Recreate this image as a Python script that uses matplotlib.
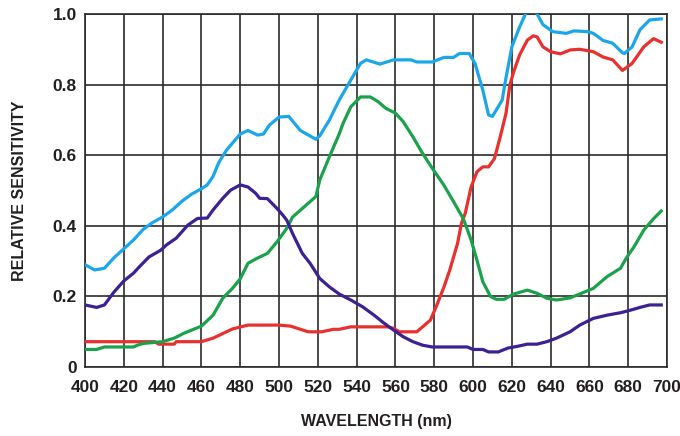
import numpy as np
import matplotlib.pyplot as plt

plt.rcParams['font.family'] = ['Liberation Sans', 'DejaVu Sans']

# light blue curve
blue_wl = [400, 405, 410, 415, 420, 425, 430, 435, 440, 445, 450, 455, 460, 463, 466,
           469, 473, 480, 484, 489, 492, 495, 500, 505, 511, 519, 521, 526, 531, 537,
           542, 545, 552, 559, 568, 571, 579, 585, 590, 593, 598, 601, 605, 608, 610,
           615, 617, 620, 624, 627, 630, 633, 636, 641, 648, 652, 659, 662, 667, 672,
           677, 678, 682, 686, 691, 697]
blue_val = [0.29, 0.275, 0.28, 0.31, 0.335, 0.36, 0.39, 0.41, 0.425, 0.445, 0.47, 0.49,
            0.505, 0.516, 0.54, 0.58, 0.615, 0.66, 0.67, 0.657, 0.66, 0.685, 0.708,
            0.71, 0.67, 0.645, 0.655, 0.70, 0.756, 0.813, 0.86, 0.87, 0.858, 0.87, 0.87,
            0.864, 0.864, 0.877, 0.877, 0.888, 0.888, 0.86, 0.785, 0.714, 0.71, 0.756,
            0.82, 0.907, 0.963, 1.0, 1.02, 1.0, 0.97, 0.95, 0.945, 0.952, 0.95, 0.945,
            0.925, 0.917, 0.89, 0.888, 0.907, 0.955, 0.983, 0.986]

# red curve
red_wl = [400, 436, 438, 446, 447, 460, 466, 476, 484, 500, 506, 515, 519, 522, 528,
          531, 537, 556, 559, 562, 571, 574, 578, 581, 585, 588, 592, 594, 596, 599,
          602, 605, 608, 611, 614, 617, 619, 621, 624, 628, 631, 633, 636, 640, 645,
          650, 655, 662, 667, 672, 677, 682, 688, 693, 697]
red_val = [0.072, 0.072, 0.065, 0.065, 0.072, 0.072, 0.082, 0.108, 0.119, 0.119, 0.116,
           0.10, 0.10, 0.10, 0.107, 0.107, 0.114, 0.114, 0.11, 0.10, 0.10, 0.114, 0.133,
           0.171, 0.227, 0.275, 0.35, 0.407, 0.436, 0.51, 0.553, 0.567, 0.567, 0.59,
           0.652, 0.719, 0.80, 0.837, 0.884, 0.926, 0.938, 0.935, 0.907, 0.893, 0.887,
           0.898, 0.90, 0.893, 0.878, 0.87, 0.84, 0.86, 0.907, 0.93, 0.92]

# green curve
green_wl = [400, 406, 410, 425, 427, 430, 440, 446, 451, 460, 466, 471, 476, 480, 484,
            489, 494, 499, 504, 507, 513, 519, 521, 526, 531, 533, 537, 542, 547, 551,
            555, 560, 564, 569, 574, 579, 585, 590, 595, 599, 602, 605, 609, 612, 616,
            621, 628, 633, 638, 643, 650, 655, 662, 669, 676, 679, 683, 688, 693, 697]
green_val = [0.05, 0.05, 0.057, 0.057, 0.062, 0.067, 0.072, 0.082, 0.096, 0.116, 0.147,
             0.195, 0.223, 0.25, 0.294, 0.309, 0.322, 0.355, 0.393, 0.425, 0.454, 0.483,
             0.53, 0.596, 0.66, 0.69, 0.737, 0.765, 0.765, 0.752, 0.733, 0.719, 0.695,
             0.652, 0.605, 0.563, 0.515, 0.468, 0.42, 0.36, 0.303, 0.242, 0.20, 0.192,
             0.192, 0.207, 0.218, 0.209, 0.195, 0.19, 0.196, 0.207, 0.223, 0.256, 0.28,
             0.309, 0.341, 0.388, 0.42, 0.442]

# purple curve
purple_wl = [400, 406, 410, 415, 420, 425, 428, 433, 439, 442, 447, 453, 458, 463, 466,
             471, 475, 480, 484, 488, 490, 494, 499, 502, 504, 507, 512, 516, 521, 526,
             531, 537, 543, 549, 554, 559, 564, 569, 574, 579, 597, 600, 605, 608, 613,
             618, 623, 628, 633, 638, 643, 650, 655, 662, 669, 676, 681, 686, 691, 697]
purple_val = [0.176, 0.169, 0.176, 0.213, 0.244, 0.266, 0.284, 0.312, 0.331, 0.346,
              0.365, 0.402, 0.421, 0.422, 0.445, 0.478, 0.501, 0.516, 0.51, 0.492, 0.478,
              0.477, 0.449, 0.43, 0.416, 0.378, 0.322, 0.294, 0.251, 0.227, 0.207, 0.19,
              0.171, 0.147, 0.125, 0.105, 0.086, 0.072, 0.062, 0.057, 0.057, 0.05, 0.05,
              0.043, 0.043, 0.054, 0.059, 0.065, 0.065, 0.072, 0.082, 0.10, 0.119, 0.138,
              0.147, 0.154, 0.161, 0.169, 0.176, 0.176]

x_ticks = list(range(400, 701, 20))
y_ticks = [0, 0.2, 0.4, 0.6, 0.8, 1.0]
y_tick_labels = ['0', '0.2', '0.4', '0.6', '0.8', '1.0']

fig = plt.figure(figsize=(6.8, 4.36), dpi=100)
ax = fig.add_axes([0.125, 0.158, 0.856, 0.81])

lw = 2.3
ax.plot(red_wl, red_val, color='#e8312f', lw=lw, zorder=3)
ax.plot(green_wl, green_val, color='#1aa24b', lw=lw, zorder=3)
ax.plot(purple_wl, purple_val, color='#3b2192', lw=lw, zorder=3)
ax.plot(blue_wl, blue_val, color='#1ba6e9', lw=lw, zorder=4)

ax.set_xlim(400, 700)
ax.set_ylim(0, 1.0)
ax.set_xticks(x_ticks)
ax.set_yticks(y_ticks)
ax.set_yticklabels(y_tick_labels)
ax.grid(True, color='#2b2b2b', lw=1.2, zorder=1)
for s in ax.spines.values():
    s.set_color('#2b2b2b')
    s.set_linewidth(1.2)
ax.tick_params(length=0, labelsize=12.5, colors='#231f20')
ax.tick_params(axis='x', pad=9)
ax.tick_params(axis='y', pad=6)
for lab in ax.get_xticklabels() + ax.get_yticklabels():
    lab.set_fontweight('bold')

ax.set_xlabel('WAVELENGTH (nm)', fontsize=11.5, fontweight='bold', color='#231f20', labelpad=14)
fig.text(20 / 680, 1 - 191 / 436, 'RELATIVE SENSITIVITY', rotation=90, fontsize=11.5,
         fontweight='bold', color='#231f20', ha='center', va='center')

fig.savefig('out.png', dpi=100)
